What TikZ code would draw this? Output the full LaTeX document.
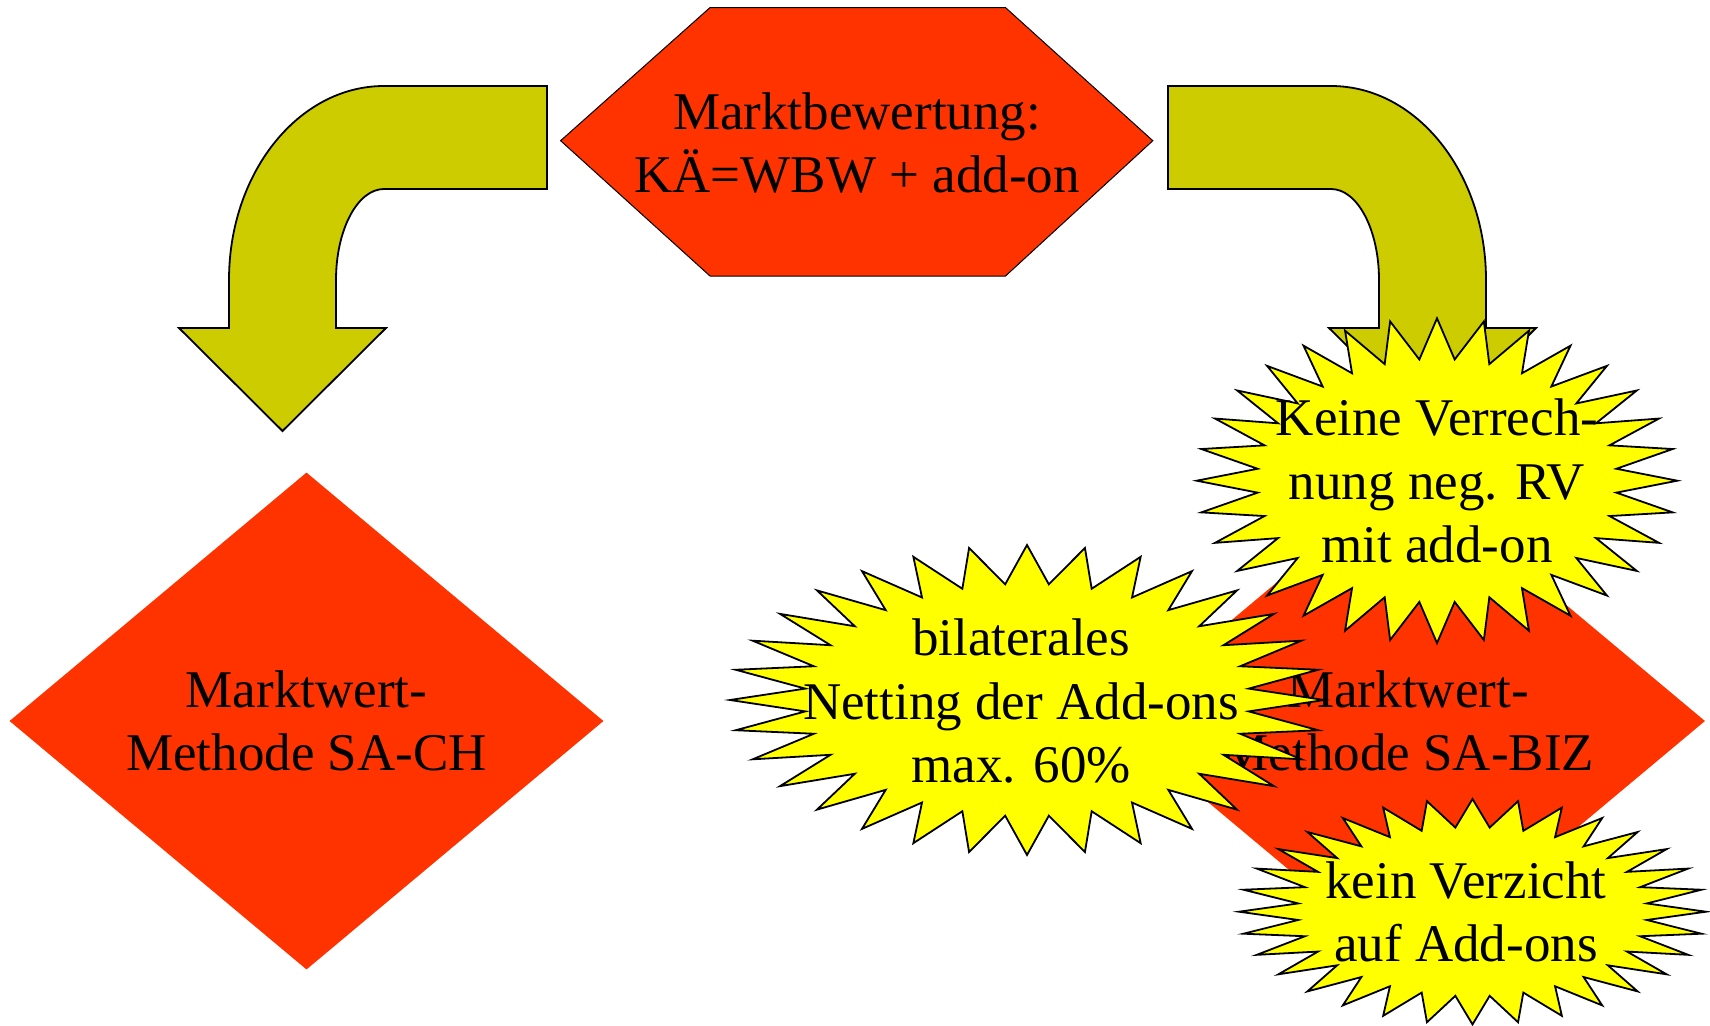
\documentclass[tikz,border=0pt]{standalone}
\usepackage{fontspec}
\setmainfont{Liberation Serif}
\usetikzlibrary{shapes.geometric}
\definecolor{mwred}{HTML}{FF3300}
\definecolor{mwolive}{HTML}{CCCC00}
\definecolor{mwyellow}{HTML}{FFFF00}
\tikzset{
  lbl/.style={align=center, inner sep=0pt, font=\fontsize{53}{63.5}\selectfont},
  bendarrow/.style={fill=mwolive, draw=black, line width=1.8pt},
  hexbox/.style={fill=mwred, draw=black, line width=1pt},
  diam/.style={diamond, fill=mwred, minimum width=594pt, minimum height=497pt,
               aspect=1.2, lbl},
  burst/.style={fill=mwyellow, draw=black, line width=1.8pt}
}
% 32-point starburst: cx, cy, rx, ry
\newcommand{\starburst}[4]{%
  \filldraw[burst] plot[samples at={0,...,63}, variable=\k]
    ({#1+#3*(1-0.25*mod(\k,2))*cos(90+5.625*\k)},
     {#2+#4*(1-0.25*mod(\k,2))*sin(90+5.625*\k)}) -- cycle;
}
\begin{document}
\begin{tikzpicture}[x=1pt, y=-1pt]
\useasboundingbox (0,0) rectangle (1710,1025);

% bent arrows
\filldraw[bendarrow] (547,86) -- (547,189) -- (384,189)
  arc[start angle=-90, end angle=-180, x radius=48, y radius=91]
  -- (336,328) -- (386,328) -- (282.5,431) -- (179,328) -- (229,328) -- (229,280)
  arc[start angle=180, end angle=270, x radius=155, y radius=194] -- cycle;
\filldraw[bendarrow] (1168,86) -- (1168,189) -- (1331,189)
  arc[start angle=270, end angle=360, x radius=48, y radius=91]
  -- (1379,328) -- (1329,328) -- (1432.5,431) -- (1536,328) -- (1486,328) -- (1486,280)
  arc[start angle=0, end angle=-90, x radius=155, y radius=194] -- cycle;

% top hexagon
\filldraw[hexbox] (560.6,140.7) -- (710,7.6) -- (1005.5,7.6) -- (1152.8,140.7)
  -- (1005.5,276) -- (710,276) -- cycle;
\node[lbl] (bewertung) at (857,143) {Marktbewertung:\\KÄ=WBW + add-on};

% diamonds
\node[diam] (sach) at (306.5,721) {Marktwert-\\Methode SA-CH};
\node[diam] (sabiz) at (1408,721) {Marktwert-\\Methode SA-BIZ};

% starbursts
\starburst{1027}{700}{297}{155}
\node[lbl] (netting) at (1021,701) {bilaterales\\Netting der Add-ons\\max. 60\%};
\starburst{1437}{480.7}{240.3}{162.4}
\node[lbl] (verrech) at (1437,481) {Keine Verrech-\\nung neg. RV\\mit add-on};
\starburst{1472.5}{911.7}{233.5}{112.7}
\node[lbl] (verzicht) at (1466,912) {kein Verzicht\\auf Add-ons};
\end{tikzpicture}
\end{document}
